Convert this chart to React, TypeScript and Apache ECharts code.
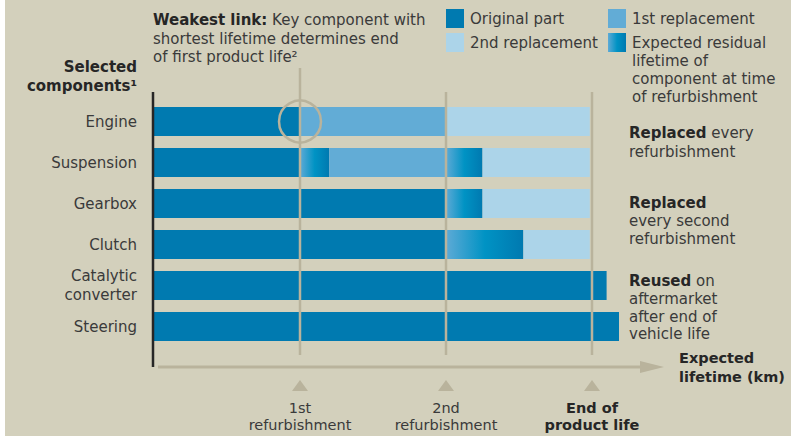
import React, { useEffect, useRef } from "react";
import * as echarts from "echarts";

// ---------- data ----------
const categories = ["Engine", "Suspension", "Gearbox", "Clutch", "Catalytic\nconverter", "Steering"];
// expected lifetime segments (1st refurbishment = 100, 2nd = 200, end of product life = 300)
const originalPart = [100, 100, 200, 200, 310, 318.5];
const residualAtFirst = [0, 20, 0, 0, 0, 0];
const firstReplacement = [100, 80, 0, 0, 0, 0];
const residualAtSecond = [0, 25, 25, 53, 0, 0];
const secondReplacement = [98.5, 73.5, 73.5, 45.5, 0, 0];
const milestonesKm = [100, 200, 300];
const milestoneLabels = [["1st", "refurbishment"], ["2nd", "refurbishment"], ["End of", "product life"]];

// ---------- style ----------
const FONT = "'DejaVu Sans', sans-serif";
const FS = 15;
const BG = "#d3d0bc";
const LINE = "#b9b39c";
const TXT = "#3a3a3a";
const BOLD = "#262626";
const C_ORIG = "#007ab0";
const C_REP1 = "#62acd6";
const C_REP2 = "#acd4e9";
const grad = () =>
  new echarts.graphic.LinearGradient(0, 0, 1, 0, [
    { offset: 0, color: "#5eaad6" },
    { offset: 0.5, color: "#0093c4" },
    { offset: 1, color: "#0079b0" },
  ]);

const richB = (size = FS, lh = 18.5) => ({
  b: { fontWeight: "bold", fontSize: size, fontFamily: FONT, fill: BOLD, color: BOLD, lineHeight: lh },
});

function txt(x: number, y: number, text: string, o: any = {}) {
  const size = o.size ?? FS;
  const lh = o.lh ?? 18.5;
  return {
    type: "text",
    x,
    y,
    z: 30,
    silent: true,
    style: {
      text,
      fill: o.fill ?? TXT,
      fontSize: size,
      fontFamily: FONT,
      fontWeight: o.bold ? "bold" : "normal",
      lineHeight: lh,
      textAlign: o.align ?? "left",
      align: o.align ?? "left",
      textVerticalAlign: "top",
      verticalAlign: "top",
      rich: richB(size, lh),
    },
  };
}

export default function App() {
  const ref = useRef<HTMLDivElement>(null);
  useEffect(() => {
    document.body.style.margin = "0";
    const chart = echarts.init(ref.current!, null, { renderer: "svg" });
    const mk = (name: string, data: number[], color: any) => ({
      name,
      type: "bar",
      stack: "life",
      data,
      barWidth: 29,
      silent: true,
      itemStyle: { color },
    });
    chart.setOption({
      animation: false,
      backgroundColor: BG,
      grid: { left: 154, right: 53, top: 101, bottom: 89, containLabel: false },
      xAxis: { type: "value", min: 0, max: 400, show: false },
      yAxis: {
        type: "category",
        data: categories,
        inverse: true,
        axisLine: { show: false },
        axisTick: { show: false },
        splitLine: { show: false },
        axisLabel: { margin: 17, fontSize: FS, fontFamily: FONT, color: TXT, lineHeight: 19 },
      },
      series: [
        mk("Original part", originalPart, C_ORIG),
        mk("Residual 1", residualAtFirst, grad()),
        mk("1st replacement", firstReplacement, C_REP1),
        mk("Residual 2", residualAtSecond, grad()),
        mk("2nd replacement", secondReplacement, C_REP2),
      ],
    });

    const px = (v: number) => chart.convertToPixel({ xAxisIndex: 0 }, v) as number;
    const py = (i: number) => chart.convertToPixel({ yAxisIndex: 0 }, i) as number;
    const x0 = px(0);
    const g: any[] = [];

    g.push({ type: "rect", shape: { x: 0, y: 0, width: 5, height: 436 }, style: { fill: "#ffffff" }, z: 1 });

    // milestone lines, triangles and labels
    milestonesKm.forEach((m, i) => {
      const x = px(m);
      g.push({
        type: "line",
        z: 20,
        silent: true,
        shape: { x1: x, y1: i === 0 ? 68 : 92, x2: x, y2: 355 },
        style: { stroke: LINE, lineWidth: 2.5 },
      });
      g.push({
        type: "polygon",
        z: 20,
        silent: true,
        shape: { points: [[x - 8, 391], [x, 380], [x + 8, 391]] },
        style: { fill: LINE },
      });
      const bold = i === 2;
      const o = { align: "center", bold, fill: bold ? BOLD : TXT, size: 14.5, lh: 17 };
      g.push(txt(x, 399.5, milestoneLabels[i][0], o));
      g.push(txt(x, 416.5, milestoneLabels[i][1], o));
    });

    // weakest link circle
    g.push({
      type: "circle",
      z: 21,
      silent: true,
      shape: { cx: px(milestonesKm[0]), cy: py(0), r: 21 },
      style: { fill: "none", stroke: LINE, lineWidth: 2.5 },
    });

    // axes
    g.push({
      type: "line",
      z: 20,
      shape: { x1: x0 - 1, y1: 92, x2: x0 - 1, y2: 367 },
      style: { stroke: "#262626", lineWidth: 2.5 },
    });
    g.push({
      type: "line",
      z: 20,
      shape: { x1: x0 + 4, y1: 367, x2: 645, y2: 367 },
      style: { stroke: LINE, lineWidth: 3 },
    });
    g.push({
      type: "polygon",
      z: 20,
      shape: { points: [[640, 361], [664, 367], [640, 373]] },
      style: { fill: LINE },
    });
    g.push(txt(679, 349, "Expected\nlifetime (km)", { bold: true, fill: BOLD, size: 14.5 }));

    // titles
    g.push(txt(153, 11, "{b|Weakest link:} Key component with\nshortest lifetime determines end\nof first product life²"));
    g.push(txt(137, 58, "Selected\ncomponents¹", { bold: true, fill: BOLD, align: "right" }));

    // legend
    const legend = [
      { x: 446, y: 9, fill: C_ORIG, label: "Original part" },
      { x: 446, y: 33, fill: C_REP2, label: "2nd replacement" },
      { x: 608, y: 9, fill: C_REP1, label: "1st replacement" },
      { x: 608, y: 33, fill: grad(), label: "Expected residual\nlifetime of\ncomponent at time\nof refurbishment" },
    ];
    legend.forEach((l) => {
      g.push({ type: "rect", z: 20, shape: { x: l.x, y: l.y, width: 18, height: 19 }, style: { fill: l.fill } });
      g.push(txt(l.x + 24, l.y + 1.5, l.label, { lh: 17.8 }));
    });

    // right annotations
    g.push(txt(629, 124, "{b|Replaced} every\nrefurbishment"));
    g.push(txt(629, 194, "{b|Replaced}\nevery second\nrefurbishment", { lh: 18 }));
    g.push(txt(629, 272, "{b|Reused} on\naftermarket\nafter end of\nvehicle life", { lh: 17.8 }));

    chart.setOption({ graphic: g });
    return () => chart.dispose();
  }, []);
  return <div ref={ref} style={{ width: 791, height: 436 }} />;
}
